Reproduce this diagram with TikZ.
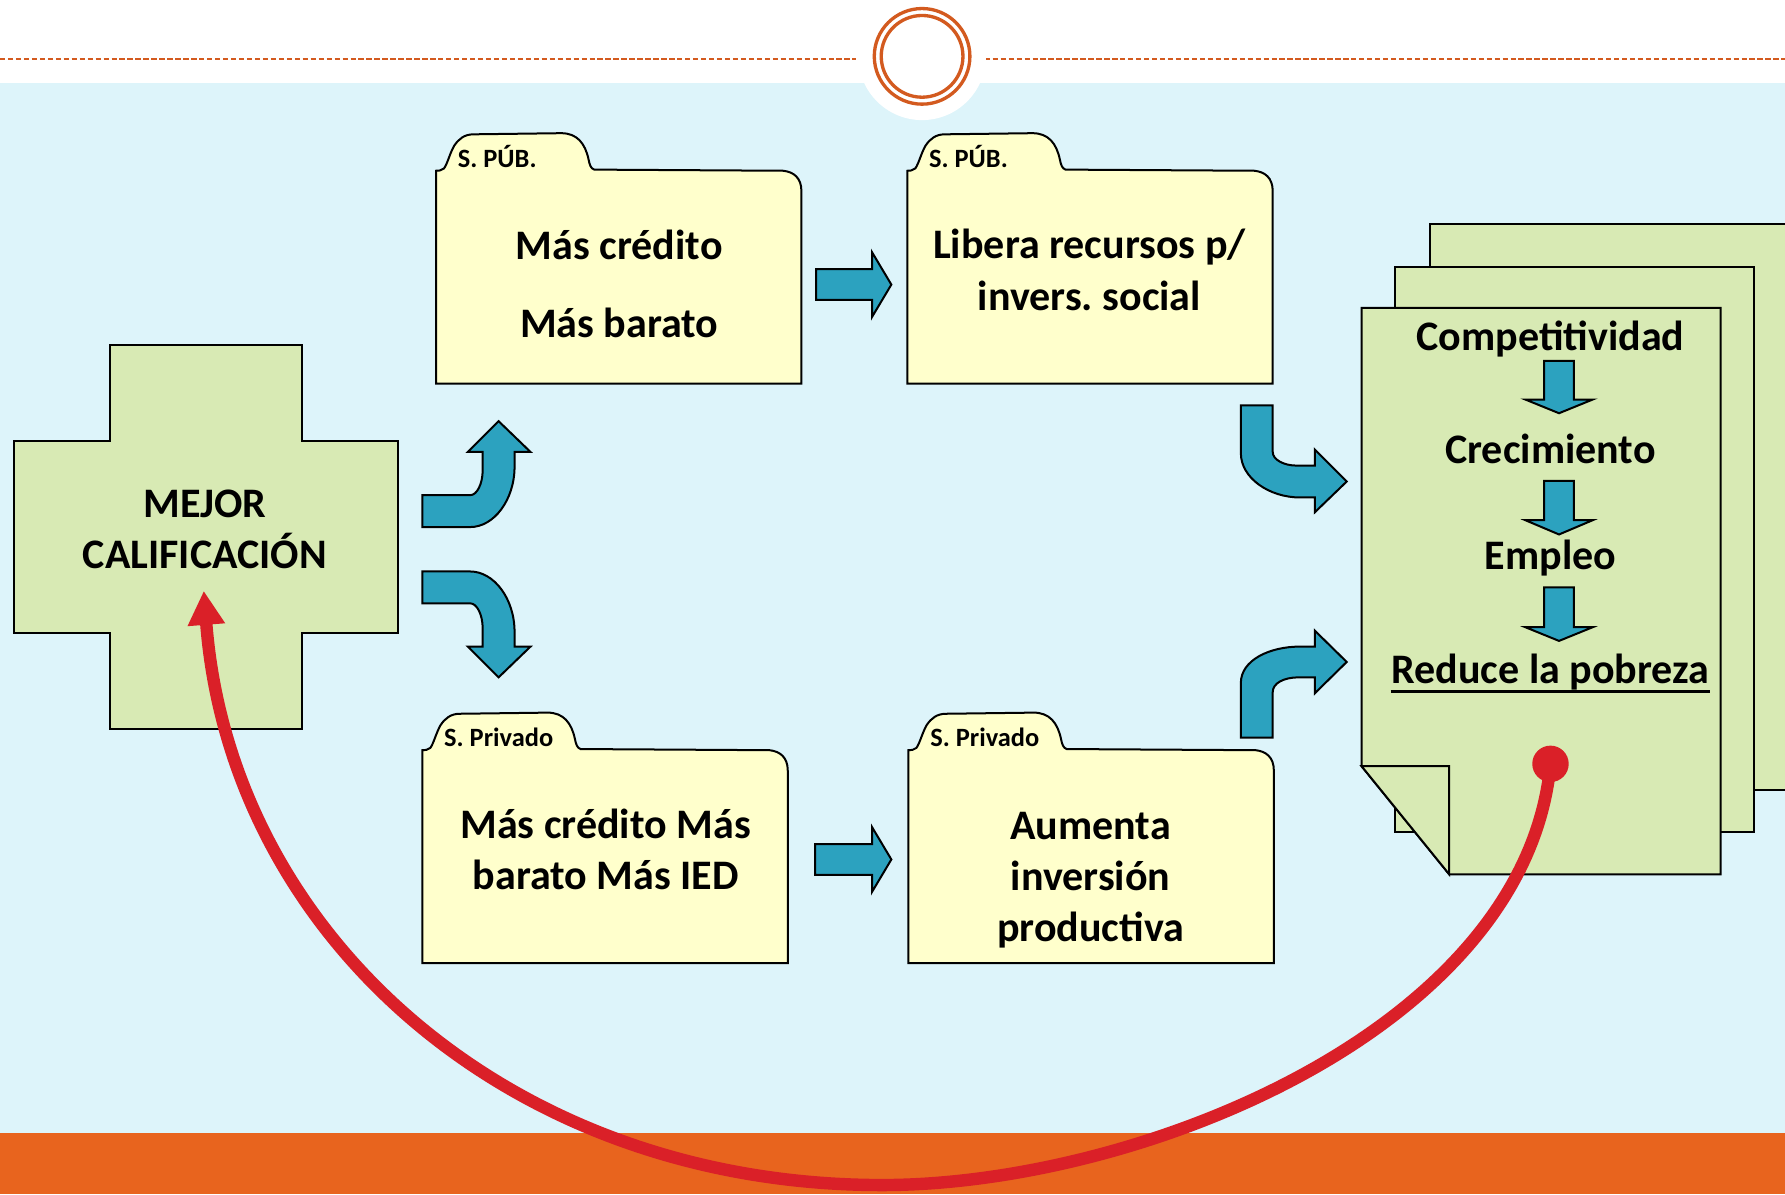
\documentclass[tikz,border=0pt]{standalone}
\usepackage{fontspec}
\setmainfont{Carlito}
\usetikzlibrary{arrows.meta}

\definecolor{fondo}{HTML}{DDF4FA}
\definecolor{naranja}{HTML}{E8641E}
\definecolor{anillo}{HTML}{D35A1F}
\definecolor{crema}{HTML}{FFFFCC}
\definecolor{verde}{HTML}{D8EAB4}
\definecolor{azul}{HTML}{2CA2BF}
\definecolor{rojo}{HTML}{DA2028}

% carpeta con pestana, #1 = esquina superior izquierda del cuerpo
\newcommand{\carpeta}[1]{%
\draw[carpeta, shift={#1}] (0,0) -- (0,187) -- (321,187) -- (321,18)
  .. controls (321,6) and (314,1) .. (305,0) -- (139,-1)
  .. controls (136,-2) and (135,-5) .. (134,-10)
  .. controls (131,-24) and (124,-33) .. (110,-33) -- (33,-32)
  .. controls (25,-32) and (20,-28) .. (16,-22)
  .. controls (12,-15) and (10,-6) .. (7,-2)
  .. controls (5,0) and (2,0) .. (0,0) -- cycle;}

\begin{document}
\frenchspacing
\begin{tikzpicture}[x=0.01cm, y=-0.01cm,
  carpeta/.style={fill=crema, draw=black, line width=0.5pt},
  hoja/.style={fill=verde, draw=black, line width=0.5pt},
  bloque/.style={fill=azul, draw=black, line width=0.5pt},
  texto/.style={font=\fontsize{10.5}{12.8}\selectfont\bfseries, align=center},
  etiqueta/.style={font=\fontsize{6.6}{8}\selectfont\bfseries, inner sep=0pt, anchor=base west},
  flecharoja/.style={draw=rojo, line width=3.1pt, -{Triangle[length=8.5pt, width=8.8pt]}}]
\useasboundingbox (0,0) rectangle (1568,1049);
%\draw[help lines, step=100] (0,0) grid (1568,1049);
\fill[white] (0,0) rectangle (1568,73);
\fill[fondo] (0,73) rectangle (1568,995);
\fill[naranja] (0,995) rectangle (1568,1049);
\draw[anillo, line width=0.5pt, dash pattern=on 1.33pt off 0.66pt] (0,52) -- (752,52) (865,52) -- (1568,52);
\fill[white] (810,49.5) circle (56);
\draw[anillo, line width=0.83pt] (810,49.5) circle (42) (810,49.5) circle (35.9);

% cruz
\draw[hoja] (12,387) -- (97,387) -- (97,303) -- (265,303) -- (265,387) -- (350,387)
  -- (350,556) -- (265,556) -- (265,640) -- (97,640) -- (97,556) -- (12,556) -- cycle;
\node[texto] (mejor) at (180,465) {MEJOR\\CALIFICACIÓN};

% carpetas
\carpeta{(383,150)}
\carpeta{(797,150)}
\carpeta{(371,659)}
\carpeta{(798,659)}
\node[etiqueta] (pub1) at (401.5,147) {S. PÚB.};
\node[etiqueta] (pub2) at (815.5,147) {S. PÚB.};
\node[etiqueta] (priv1) at (389.5,656) {S. Privado};
\node[etiqueta] (priv2) at (816.5,656) {S. Privado};
\node[texto] (credito) at (544,249.5) {Más crédito\\[6.5pt]Más barato};
\node[texto] (libera) at (957,237) {Libera recursos p/\\invers. social};
\node[texto] (ied) at (532,746) {Más crédito Más\\barato Más IED};
\node[texto] (aumenta) at (958,773) {Aumenta\\inversión\\productiva};

% flechas rectas
\draw[bloque] (717,236.5) -- (766,236.5) -- (766,221.5) -- (783,250) -- (766,278.5) -- (766,263.5) -- (717,263.5) -- cycle;
\draw[bloque] (716,741.5) -- (766,741.5) -- (766,726.5) -- (783,755) -- (766,783.5) -- (766,768.5) -- (716,768.5) -- cycle;

% flechas curvas
\draw[bloque] (371,463) -- (413,463) .. controls (434,463) and (452,439) .. (452,410) -- (452,397) -- (466,397)
  -- (438,370) -- (411,397) -- (424,397) -- (424,413) .. controls (424,425) and (419,435) .. (413,435) -- (371,435) -- cycle;
\draw[bloque] (371,502) -- (413,502) .. controls (434,502) and (452,526) .. (452,555) -- (452,568) -- (466,568)
  -- (438,595) -- (411,568) -- (424,568) -- (424,552) .. controls (424,540) and (419,530) .. (413,530) -- (371,530) -- cycle;
\draw[bloque] (1090,356) -- (1090,398) .. controls (1090,420) and (1115,437) .. (1142,437) -- (1155,437) -- (1155,450)
  -- (1183,423) -- (1155,395) -- (1155,409) -- (1139,409) .. controls (1128,409) and (1118,404) .. (1118,397) -- (1118,356) -- cycle;
\draw[bloque] (1090,648) -- (1090,600) .. controls (1090,580) and (1115,568) .. (1142,568) -- (1155,568) -- (1155,554)
  -- (1183,581.5) -- (1155,609) -- (1155,595) -- (1141,595) .. controls (1128,595) and (1118,600) .. (1118,608) -- (1118,648) -- cycle;

% hojas
\draw[hoja] (1256,197) rectangle (1580,694);
\draw[hoja] (1225,234.5) rectangle (1541,731);
\draw[hoja] (1196,270.5) -- (1511.5,270.5) -- (1511.5,768) -- (1273,768) -- (1196,673) -- cycle;
\draw[hoja] (1196,673) -- (1273,673) -- (1273,768) -- cycle;
\node[texto, anchor=base] (compet) at (1362,308.3) {Competitividad};
\node[texto, anchor=base] (crec) at (1362,407) {Crecimiento};
\node[texto, anchor=base] (empleo) at (1362,500) {Empleo};
\node[texto, anchor=base, inner sep=0pt] (pobreza) at (1362,600) {Reduce la pobreza};
\draw[line width=0.66pt] ([yshift=-2.1pt]pobreza.base west) -- ([yshift=-2.1pt]pobreza.base east);
\foreach \a/\b/\c in {317/351/363, 422.5/457/469.5, 516/551/563}
  \draw[bloque] (1356.5,\a) -- (1382.5,\a) -- (1382.5,\b) -- (1399,\b) -- (1369.5,\c) -- (1340,\b) -- (1356.5,\b) -- cycle;

% flecha roja
\node[circle, fill=rojo, minimum size=3.2mm, inner sep=0pt] (punto) at (1362,671) {};
\coordinate (fondoc) at (775,1041);
\coordinate (punta) at (179,519);
\draw[flecharoja] (punto.center) .. controls (1340,905) and (1000,1041) .. (fondoc)
  .. controls (445,1041) and (202,819) .. (punta);
\end{tikzpicture}
\end{document}
